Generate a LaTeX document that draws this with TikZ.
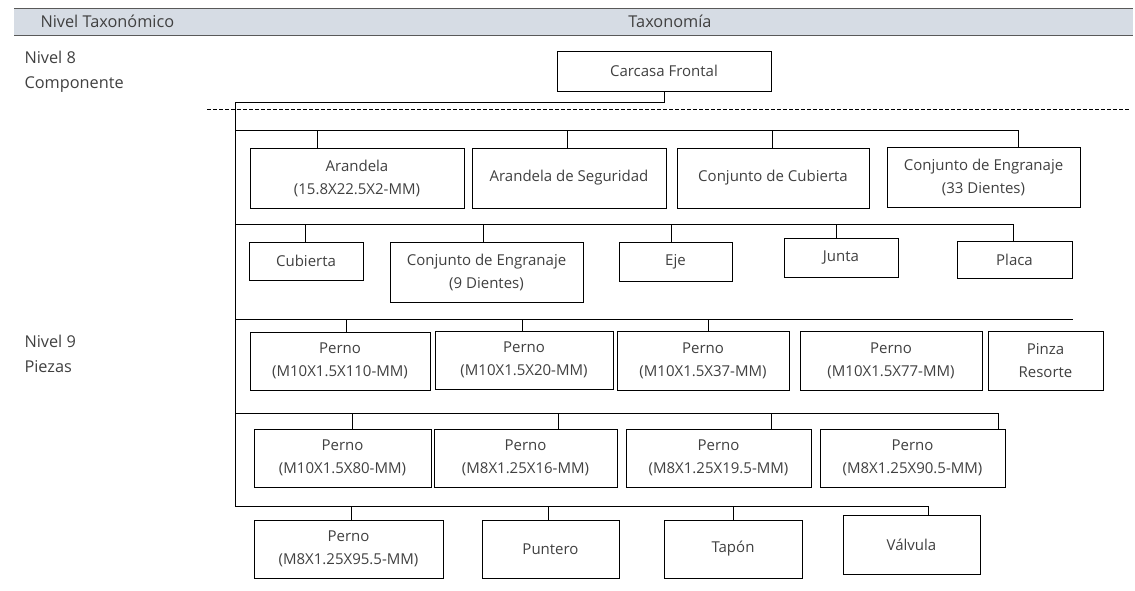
\documentclass[tikz,border=0pt]{standalone}
\usepackage{fontspec}
\setmainfont{Open Sans}
\usetikzlibrary{positioning}
\definecolor{headgray}{HTML}{D6DCE4}
\definecolor{rulegray}{HTML}{595959}
\definecolor{textgray}{HTML}{404040}

\begin{document}
\begin{tikzpicture}[x=1pt,y=-1pt,line width=1pt,
    box/.style={draw,rectangle,align=center,inner sep=1pt,text=textgray,
                font=\fontsize{15}{23}\selectfont},
    lbl/.style={anchor=west,align=left,inner sep=0pt,text=textgray,
                font=\fontsize{16.3}{25}\selectfont}]

\useasboundingbox (0,0) rectangle (1135,590);

% header
\fill[headgray] (14,8) rectangle (1133,35);
\draw[rulegray] (14,8) -- (1133,8) (14,35) -- (1133,35);
\node[lbl]               (hnivel) at (40,21.5)  {Nivel Taxonómico};
\node[lbl,anchor=center] (htax)   at (670,21.5) {Taxonomía};

\node[lbl] (nivel8) at (24,71.5)  {Nivel 8\\Componente};
\node[lbl] (nivel9) at (24,353.5) {Nivel 9\\Piezas};

% nivel 8
\node[box,minimum width=214,minimum height=40] (cf) at (664,71) {Carcasa Frontal};

% fila 1
\node[box,minimum width=214,minimum height=60] (ar)   at (357,178)   {Arandela\\(15.8X22.5X2-MM)};
\node[box,minimum width=194,minimum height=60] (as)   at (569,178)   {Arandela de Seguridad};
\node[box,minimum width=192,minimum height=60] (cc)   at (773,178)   {Conjunto de Cubierta};
\node[box,minimum width=193,minimum height=60] (ce33) at (983.5,177) {Conjunto de Engranaje\\(33 Dientes)};

% fila 2
\node[box,minimum width=114,minimum height=38] (cu)  at (306,261)    {Cubierta};
\node[box,minimum width=193,minimum height=60] (ce9) at (486.5,272)  {Conjunto de Engranaje\\(9 Dientes)};
\node[box,minimum width=113,minimum height=39] (eje) at (675.5,261.5) {Eje};
\node[box,minimum width=114,minimum height=39] (ju)  at (841,257.5)  {Junta};
\node[box,minimum width=115,minimum height=37] (pl)  at (1014.5,259.5) {Placa};

% fila 3
\node[box,minimum width=180,minimum height=58] (p110) at (340,361)    {Perno\\(M10X1.5X110-MM)};
\node[box,minimum width=178,minimum height=58] (p20)  at (524,360)    {Perno\\(M10X1.5X20-MM)};
\node[box,minimum width=172,minimum height=59] (p37)  at (703,360.5)  {Perno\\(M10X1.5X37-MM)};
\node[box,minimum width=182,minimum height=59] (p77)  at (891,360.5)  {Perno\\(M10X1.5X77-MM)};
\node[box,minimum width=115,minimum height=59] (pr)   at (1045.5,360.5) {Pinza\\Resorte};

% fila 4
\node[box,minimum width=177,minimum height=58] (p80)  at (342.5,458) {Perno\\(M10X1.5X80-MM)};
\node[box,minimum width=183,minimum height=58] (p16)  at (525.5,458) {Perno\\(M8X1.25X16-MM)};
\node[box,minimum width=185,minimum height=58] (p195) at (718.5,458) {Perno\\(M8X1.25X19.5-MM)};
\node[box,minimum width=185,minimum height=58] (p905) at (912.5,458) {Perno\\(M8X1.25X90.5-MM)};

% fila 5
\node[box,minimum width=189,minimum height=58] (p955) at (348.5,549)   {Perno\\(M8X1.25X95.5-MM)};
\node[box,minimum width=137,minimum height=58] (pu)   at (550.5,549)   {Puntero};
\node[box,minimum width=138,minimum height=58] (ta)   at (733,549)     {Tapón};
\node[box,minimum width=137,minimum height=59] (va)   at (911.5,544.5) {Válvula};

% tronco
\coordinate (top) at (235,102);
\coordinate (b1)  at (235,130);
\coordinate (b2)  at (235,224);
\coordinate (b3)  at (235,319);
\coordinate (b3e) at (1073,319);
\coordinate (b4)  at (235,413);
\coordinate (b5)  at (235,506);
\coordinate (dl)  at (207,109);
\coordinate (dr)  at (1130,109);

\draw[dash pattern=on 4pt off 2pt] (dl) -- (dr);
\draw (cf.south) |- (top) -- (b5);

\draw (b1) -| (1018,0 |- ce33.north);
\foreach \n/\x in {ar/317,as/567,cc/772}
    \draw (\x,0 |- b1) -- (\x,0 |- \n.north);

\draw (b2) -| (1013,0 |- pl.north);
\foreach \n/\x in {cu/305,ce9/483,eje/671,ju/836}
    \draw (\x,0 |- b2) -- (\x,0 |- \n.north);

\draw (b3) -- (b3e);
\foreach \n/\x in {p110/346,p20/522,p37/708}
    \draw (\x,0 |- b3) -- (\x,0 |- \n.north);

\draw (b4) -| (998,0 |- p905.north);
\foreach \n/\x in {p80/352,p16/558,p195/771}
    \draw (\x,0 |- b4) -- (\x,0 |- \n.north);

\draw (b5) -| (928,0 |- va.north);
\foreach \n/\x in {p955/351,pu/548,ta/733}
    \draw (\x,0 |- b5) -- (\x,0 |- \n.north);
\end{tikzpicture}
\end{document}
